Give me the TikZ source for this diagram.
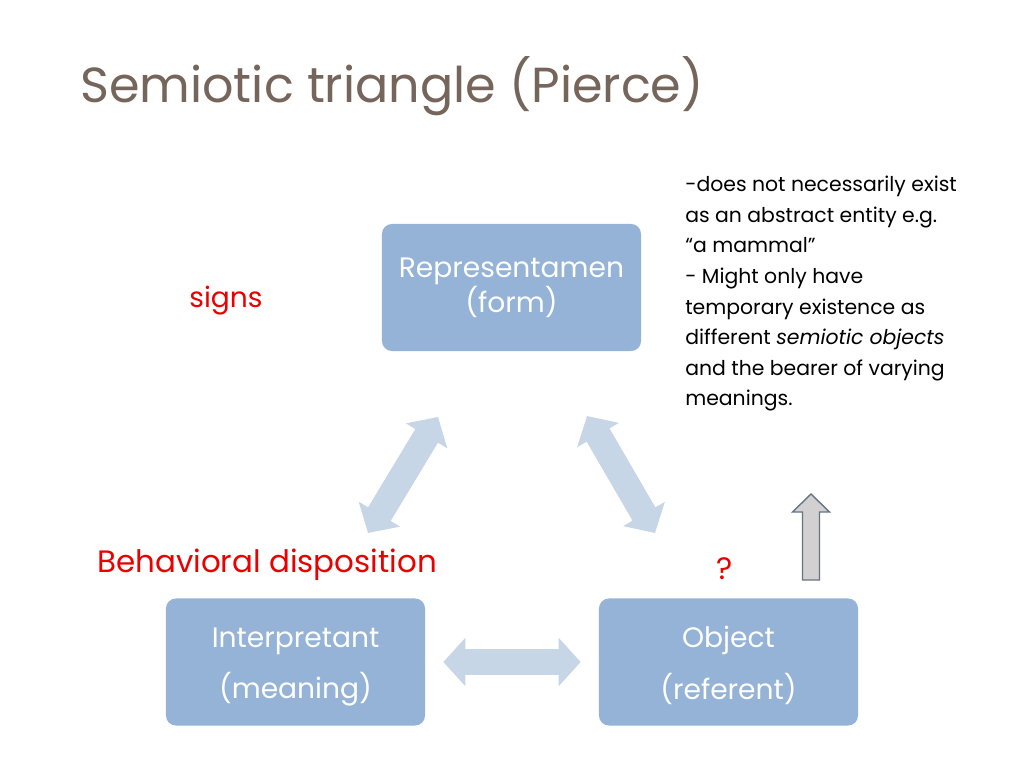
\documentclass[tikz,border=0pt]{standalone}
\usepackage{fontspec}
\setmainfont{Poppins}
\usetikzlibrary{positioning, arrows.meta, calc}

\definecolor{boxblue}{RGB}{149,179,214}
\definecolor{linkblue}{RGB}{199,214,230}
\definecolor{titlebrown}{RGB}{117,101,91}
\definecolor{signred}{RGB}{235,0,0}
\definecolor{upfill}{RGB}{210,208,208}
\definecolor{upline}{RGB}{100,117,134}

\begin{document}
\begin{tikzpicture}[
        x=0.025cm, y=-0.025cm,
        % Styles
        box/.style={% For the three corners of the triangle
            rectangle,
            rounded corners=2.5mm,
            fill=boxblue,
            text=white,
            minimum width=6.475cm,
            minimum height=3.175cm,
            align=center,
            inner sep=0pt,
            },
        link/.style={% For the double arrows between corners
            draw=linkblue,
            line width=6.6mm,
            {Triangle[length=5.5mm,width=11.75mm]}-{Triangle[length=5.5mm,width=11.75mm]},
            },
        uparrow/.style={% For the grey block arrow
            fill=upfill,
            draw=upline,
            line width=1pt,
            line join=miter,
            },
        redlabel/.style={% Red remarks
            text=signred,
            inner sep=0pt,
            },
        note/.style={% The explanation at the right
            align=left,
            inner sep=0pt,
            font=\fontsize{14.5}{21.75}\selectfont,
            },
        ]

    \useasboundingbox [fill=white] (0,0) rectangle (1024,768);

    % Title
    \node [anchor=base west, inner sep=0pt, text=titlebrown,
        font=\fontsize{35}{42}\selectfont] (title) at (80,103) {Semiotic triangle (Pierce)};

    % Nodes
        % Draw the three corners
        \node [box, font=\fontsize{20}{24.8}\selectfont] (rep) at (511.5,287.5) {Representamen\\(form)};
        \node [box, font=\fontsize{20}{36.9}\selectfont] (interp) at (295.5,662) {\rule{0pt}{21pt}Interpretant\\(meaning)};
        \node [box, font=\fontsize{20}{36.9}\selectfont] (object) at (728.5,662) {\rule{0pt}{20pt}Object\\(referent)};

        % Draw the red remarks
        \node [redlabel, anchor=base, font=\fontsize{20}{24}\selectfont] (signs) at (226,307) {signs};
        \node [redlabel, anchor=base west, font=\fontsize{22}{26}\selectfont] (disp) at (97,572) {Behavioral disposition};
        \node [redlabel, anchor=base, font=\fontsize{22}{26}\selectfont] (quest) at (725,579) {?};

        % Draw the note
        \node [note, anchor=north west] (expl) at (685,176) {-does not necessarily exist\\
            as an abstract entity e.g.\\
            “a mammal”\\
            - Might only have\\
            temporary existence as\\
            different \textit{semiotic objects}\\
            and the bearer of varying\\
            meanings.};

    % Free ends of the arrows
        \coordinate (l1) at (368,533);
        \coordinate (l2) at (438,417);
        \coordinate (r1) at (587,416);
        \coordinate (r2) at (655,533);
        \coordinate (up) at (811,580);

    % Connecting all
        \draw [link] (l1) -- (l2);
        \draw [link] (r1) -- (r2);
        \draw [link, shorten <=0.45cm, shorten >=0.45cm] (interp.east) -- (object.west);

        % The block arrow above the object
        \draw [uparrow] (up) ++(-8.5,0) -- ++(0,-68) -- ++(-10,0) -- ++(18.5,-18)
            -- ++(18.5,18) -- ++(-10,0) -- ++(0,68) -- cycle;

\end{tikzpicture}
\end{document}
